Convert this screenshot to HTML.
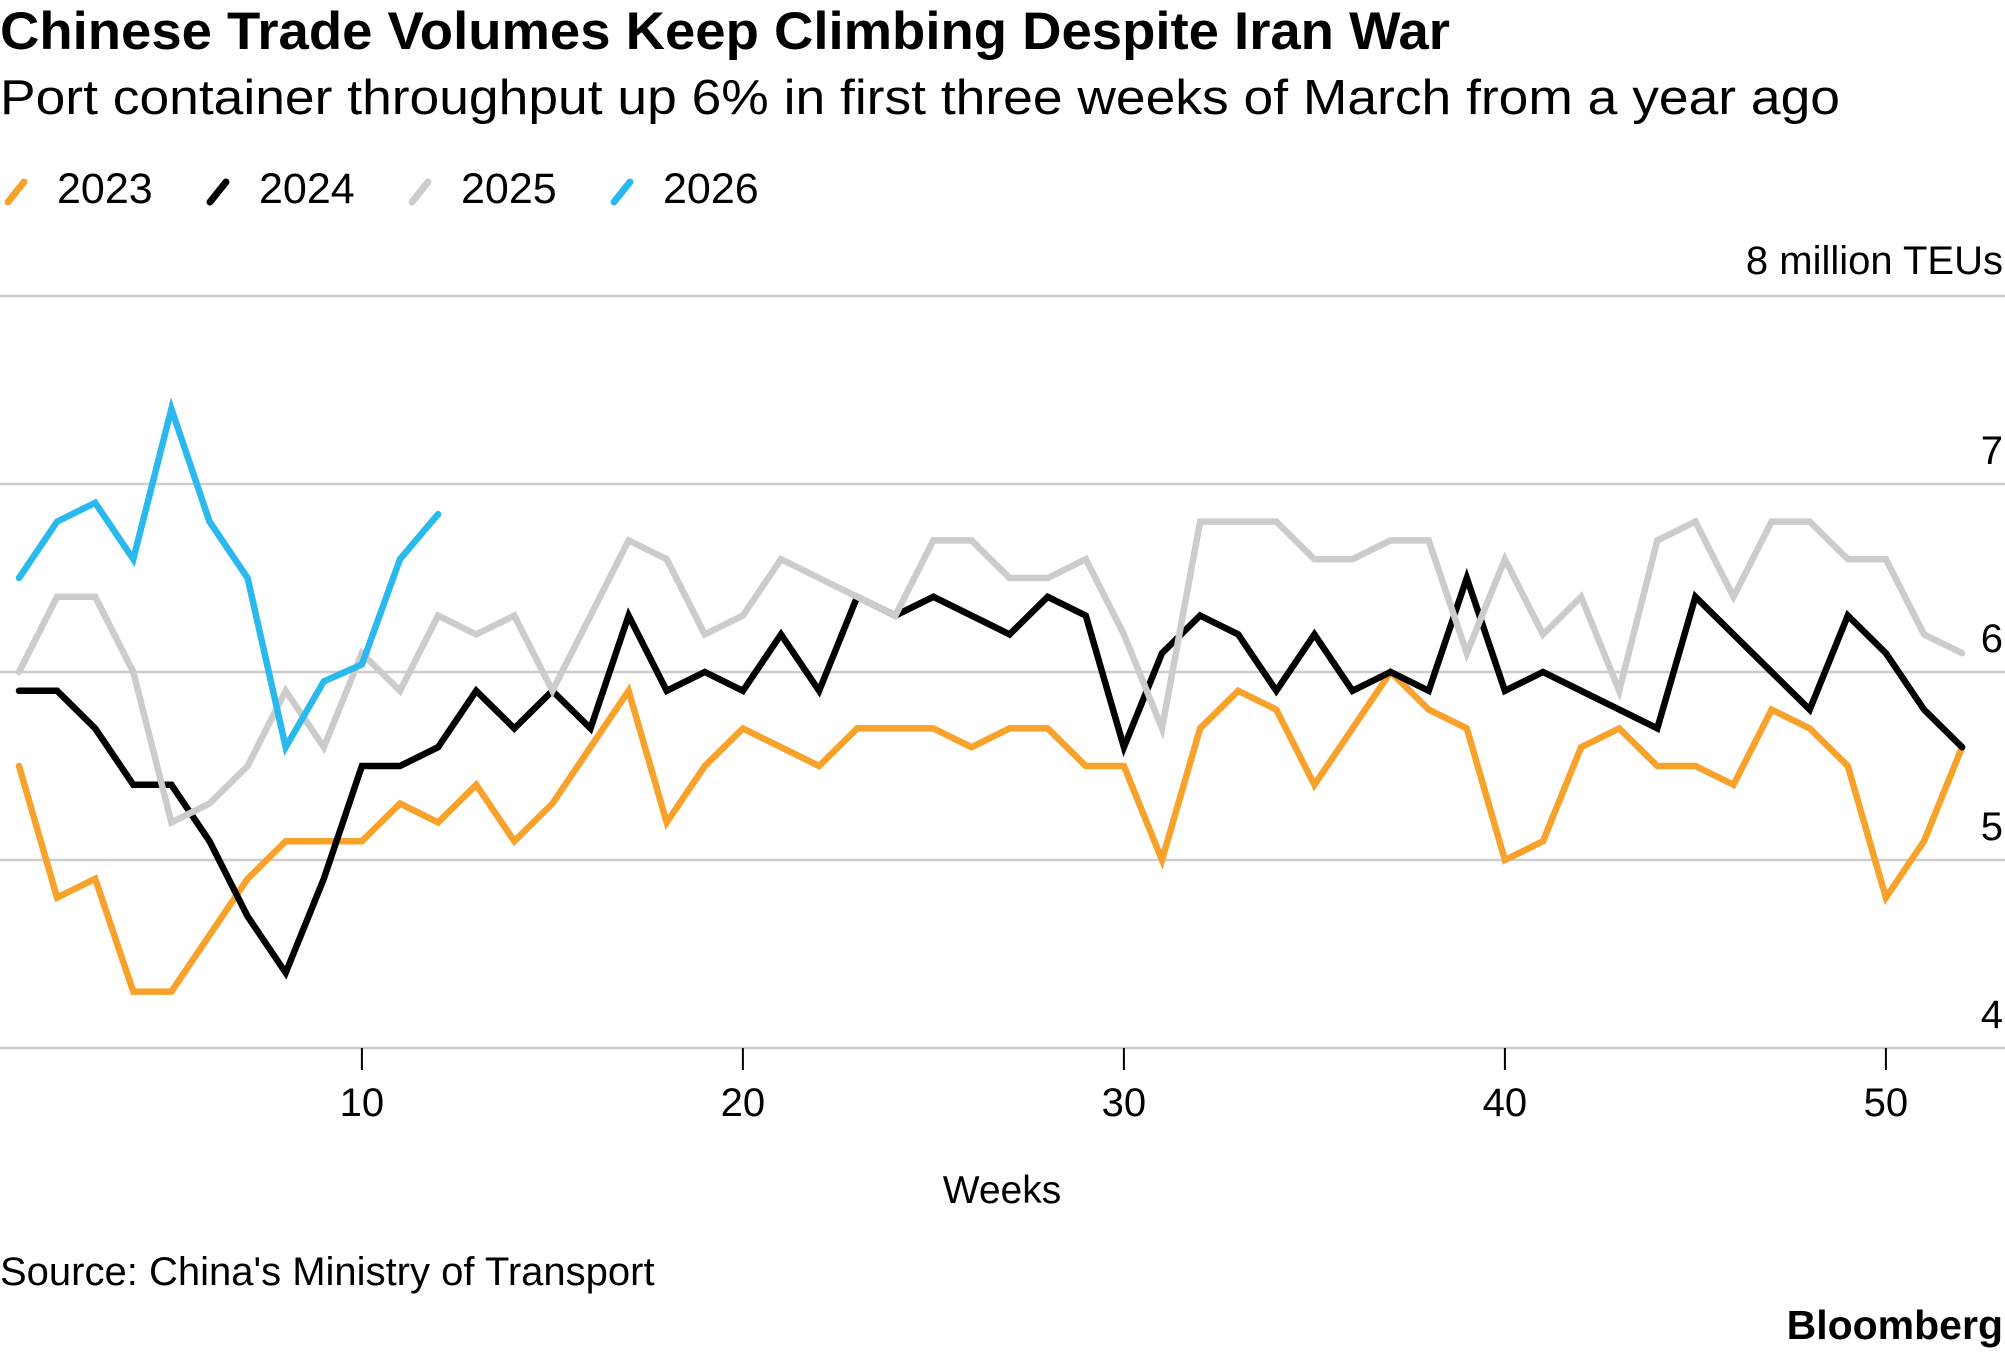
<!DOCTYPE html>
<html><head><meta charset="utf-8"><style>
html,body{margin:0;padding:0;background:#fff;}
svg{display:block;font-family:"Liberation Sans",sans-serif;}
</style></head><body>
<svg id="chart" width="2005" height="1356" viewBox="0 0 2005 1356">
<text x="0" y="49" font-size="53" font-weight="bold" fill="#000" textLength="1450" lengthAdjust="spacingAndGlyphs">Chinese Trade Volumes Keep Climbing Despite Iran War</text>
<text x="0" y="114" font-size="49" fill="#000" textLength="1840" lengthAdjust="spacingAndGlyphs">Port container throughput up 6% in first three weeks of March from a year ago</text>
<g id="legend"></g>
<text x="2003" y="274" font-size="40" text-anchor="end" fill="#000">8 million TEUs</text>
<g id="grid"></g>
<g id="xaxis"></g>
<g id="series"></g>
<text x="1002" y="1203" font-size="39" text-anchor="middle" fill="#000">Weeks</text>
<text x="0" y="1285" font-size="40" fill="#000">Source: China's Ministry of Transport</text>
<text x="2003" y="1339" font-size="41" font-weight="bold" text-anchor="end" fill="#000">Bloomberg</text>
</svg>
<script>
const yTicks = [4, 5, 6, 7, 8];
const yTickLabels = ["4", "5", "6", "7", ""];
const xTicks = [10, 20, 30, 40, 50];
const seriesNames = ["2023", "2024", "2025", "2026"];
const seriesColors = ["#f8a22b", "#000000", "#cccccc", "#2ab9ef"];
const s2023 = [5.5,4.8,4.9,4.3,4.3,4.6,4.9,5.1,5.1,5.1,5.3,5.2,5.4,5.1,5.3,5.6,5.9,5.2,5.5,5.7,5.6,5.5,5.7,5.7,5.7,5.6,5.7,5.7,5.5,5.5,5.0,5.7,5.9,5.8,5.4,5.7,6.0,5.8,5.7,5.0,5.1,5.6,5.7,5.5,5.5,5.4,5.8,5.7,5.5,4.8,5.1,5.6];
const s2024 = [5.9,5.9,5.7,5.4,5.4,5.1,4.7,4.4,4.9,5.5,5.5,5.6,5.9,5.7,5.9,5.7,6.3,5.9,6.0,5.9,6.2,5.9,6.4,6.3,6.4,6.3,6.2,6.4,6.3,5.6,6.1,6.3,6.2,5.9,6.2,5.9,6.0,5.9,6.5,5.9,6.0,5.9,5.8,5.7,6.4,6.2,6.0,5.8,6.3,6.1,5.8,5.6];
const s2025 = [6.0,6.4,6.4,6.0,5.2,5.3,5.5,5.9,5.6,6.1,5.9,6.3,6.2,6.3,5.9,6.3,6.7,6.6,6.2,6.3,6.6,6.5,6.4,6.3,6.7,6.7,6.5,6.5,6.6,6.2,5.7,6.8,6.8,6.8,6.6,6.6,6.7,6.7,6.1,6.6,6.2,6.4,5.9,6.7,6.8,6.4,6.8,6.8,6.6,6.6,6.2,6.1];
const s2026 = [6.5,6.8,6.9,6.6,7.4,6.8,6.5,5.6,5.95,6.04,6.6,6.84];
const seriesData = [s2023, s2024, s2025, s2026];

const NS = "http://www.w3.org/2000/svg";
function xScale(w){ return 19 + (w - 1) * 38.1; }
function yScale(v){ return 1048 - (v - 4) * 188; }
function mk(tag, attrs, parent){ const e=document.createElementNS(NS,tag); for(const k in attrs) e.setAttribute(k, attrs[k]); parent.appendChild(e); return e; }

const grid = document.getElementById('grid');
yTicks.forEach((t,i)=>{
  const l = mk('line',{x1:0,x2:2005,y1:yScale(t),y2:yScale(t),stroke:'#cccccc','stroke-width':2.5},grid);
  
  
  if(yTickLabels[i]){
    const tx = mk('text',{x:2003,y:yScale(t)-20,'font-size':40,'text-anchor':'end',fill:'#000'},grid);
    tx.textContent = yTickLabels[i];
    
    
  }
});
const xa = document.getElementById('xaxis');
xTicks.forEach(t=>{
  const l = mk('line',{x1:xScale(t),x2:xScale(t),y1:1048,y2:1070,stroke:'#000','stroke-width':2},xa);
  
  
  const tx = mk('text',{x:xScale(t),y:1116,'font-size':40,'text-anchor':'middle',fill:'#000'},xa);
  tx.textContent = t;
  
  
});
const sg = document.getElementById('series');
seriesData.forEach((d,i)=>{
  const pts = d.map((v,j)=>xScale(j+1).toFixed(1)+','+yScale(v).toFixed(1)).join(' ');
  const p = mk('polyline',{points:pts,fill:'none',stroke:seriesColors[i],'stroke-width':6.5,'stroke-linejoin':'miter','stroke-linecap':'round'},sg);
  
  
});
const lg = document.getElementById('legend');
const legX = [0, 202, 404, 606];
seriesNames.forEach((n,i)=>{
  const x = legX[i];
  const l = mk('line',{x1:x+8,y1:202,x2:x+24,y2:182,stroke:seriesColors[i],'stroke-width':7,'stroke-linecap':'round'},lg);
  
  
  const t = mk('text',{x:x+57,y:203,'font-size':43,fill:'#000'},lg);
  t.textContent = n;
  
  
});
</script>
</body></html>
